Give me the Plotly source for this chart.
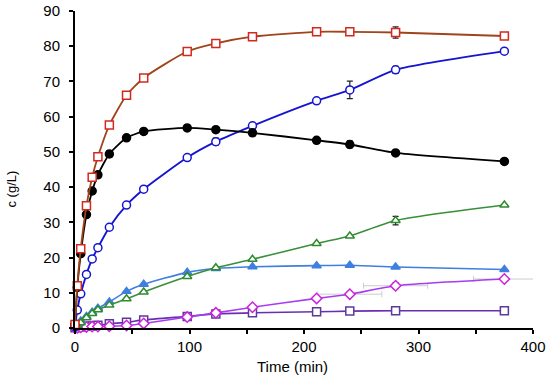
import plotly.graph_objects as go

time_min = [0, 2, 5, 10, 15, 20, 30, 45, 60, 98, 123, 155, 211, 240, 280, 375]

brown_sq = [1.0, 12.0, 22.5, 34.7, 42.8, 48.6, 57.6, 66.1, 71.0, 78.5, 80.8, 82.7, 84.1, 84.1, 83.9, 82.9]
black_ci = [0.8, 11.5, 21.1, 32.2, 38.9, 43.5, 49.4, 54.0, 55.8, 56.8, 56.3, 55.4, 53.3, 52.1, 49.7, 47.3]
blue_ci = [0.3, 5.1, 9.7, 15.2, 19.6, 22.8, 28.6, 34.9, 39.4, 48.4, 52.9, 57.4, 64.5, 67.6, 73.3, 78.6]
green_tri = [0.2, 0.7, 1.5, 2.9, 4.1, 5.2, 6.5, 8.3, 10.2, 14.6, 17.1, 19.5, 24.0, 26.1, 30.5, 34.9]
ltblue_tri = [0.4, 1.0, 2.0, 3.3, 4.5, 5.6, 7.4, 10.4, 12.4, 15.8, 16.9, 17.4, 17.7, 17.8, 17.3, 16.6]
magenta_dia = [0.0, 0.1, 0.2, 0.3, 0.4, 0.4, 0.5, 0.7, 1.3, 3.1, 4.3, 5.9, 8.4, 9.6, 12.0, 13.9]
purple_sq = [0.1, 0.2, 0.3, 0.5, 0.6, 0.8, 1.2, 1.6, 2.3, 3.3, 4.0, 4.3, 4.6, 4.8, 4.9, 4.9]

err_brown = [0, 0, 0, 0, 0, 0, 0, 0, 0, 0, 0, 0, 0, 0, 1.6, 0.6]
err_black = [0, 0, 0, 0, 0, 0, 1.0, 0, 0, 0, 0, 0.8, 0, 1.0, 0, 0]
err_blue = [0, 0, 0, 0, 0, 0, 0, 0, 0, 0, 1.0, 0, 0, 2.5, 1.0, 0]
err_green = [0, 0, 0, 0, 0, 0, 0, 0, 0, 0, 0, 0, 0, 0, 1.2, 0]
err_magenta = [0, 0, 0, 0, 0, 0, 0, 0, 0, 0, 0, 0, 0, 0, 0.8, 0]
errx_magenta = [0, 0, 0, 0, 0, 0, 0, 0, 0, 0, 0, 0, 0, 28, 28, 27]

x_ticks = [0, 100, 200, 300, 400]
y_ticks = [0, 10, 20, 30, 40, 50, 60, 70, 80, 90]

FONT = "Liberation Sans, Arial, sans-serif"

fig = go.Figure()


def add(y, line_color, symbol, edge, fill, size=8, lw=1.6, ey=None, ex=None, ex_color="#cccccc"):
    kw = {}
    if ey is not None:
        kw["error_y"] = dict(type="data", array=ey, visible=True, color="#222222",
                             thickness=1.2, width=3)
    if ex is not None:
        kw["error_x"] = dict(type="data", array=ex, visible=True, color=ex_color,
                             thickness=1, width=3)
    fig.add_trace(go.Scatter(
        x=time_min, y=y, mode="lines+markers",
        line=dict(color=line_color, width=lw, shape="spline", smoothing=0.6),
        marker=dict(symbol=symbol, size=size, color=fill,
                    line=dict(color=edge, width=1.5)),
        cliponaxis=False, showlegend=False, **kw))


add(purple_sq, "#6a2fb0", "square", "#5b3a9a", "white", size=8)
add(magenta_dia, "#a83cf0", "diamond", "#cc22dd", "white", size=8, ex=errx_magenta, ey=err_magenta)
add(ltblue_tri, "#3f7fe0", "triangle-up", "#3f7fe0", "#3f7fe0", size=8)
add(green_tri, "#3a8f3a", "triangle-up", "#2e8b2e", "white", size=8, ey=err_green)
add(blue_ci, "#1515d0", "circle", "#1515d0", "white", size=8, lw=1.9, ey=err_blue)
add(black_ci, "#000000", "circle", "#000000", "#000000", size=8, lw=1.8, ey=err_black)
add(brown_sq, "#a0441a", "square", "#d02a20", "white", size=8, lw=1.8, ey=err_brown)

fig.update_layout(
    width=550, height=379,
    margin=dict(l=75, r=17, t=11, b=51, autoexpand=False),
    paper_bgcolor="white", plot_bgcolor="white",
    font=dict(family=FONT, size=15, color="black"),
    xaxis=dict(range=[0, 400], tickvals=x_ticks, ticktext=[str(v) for v in x_ticks],
               showgrid=False, zeroline=False, showline=True, linecolor="black",
               linewidth=1.5, ticks="outside", ticklen=4, tickwidth=1.5,
               tickcolor="black", automargin=False,
               minor=dict(dtick=50, ticks="outside", ticklen=4, tickwidth=1.5,
                          tickcolor="black", showgrid=False),
               tickfont=dict(size=15, family=FONT)),
    yaxis=dict(range=[0, 90], tickvals=y_ticks, ticktext=[str(v) for v in y_ticks],
               showgrid=False, zeroline=False, showline=True, linecolor="black",
               linewidth=2, ticks="outside", ticklen=4, tickwidth=1.5,
               tickcolor="black", automargin=False, ticklabelstandoff=6,
               tickfont=dict(size=15, family=FONT)),
    annotations=[
        dict(text="Time (min)", xref="paper", yref="paper", x=0.474, y=-0.12,
             xanchor="center", yanchor="middle", showarrow=False,
             font=dict(size=15, family=FONT)),
        dict(text="c (g/L)", xref="paper", yref="paper", x=-0.1376, y=0.44,
             xanchor="center", yanchor="middle", showarrow=False, textangle=-90,
             font=dict(size=13, family=FONT)),
    ],
)

fig.write_html("out.html", config={"displayModeBar": False},
               post_script="document.body.style.margin='0';")
